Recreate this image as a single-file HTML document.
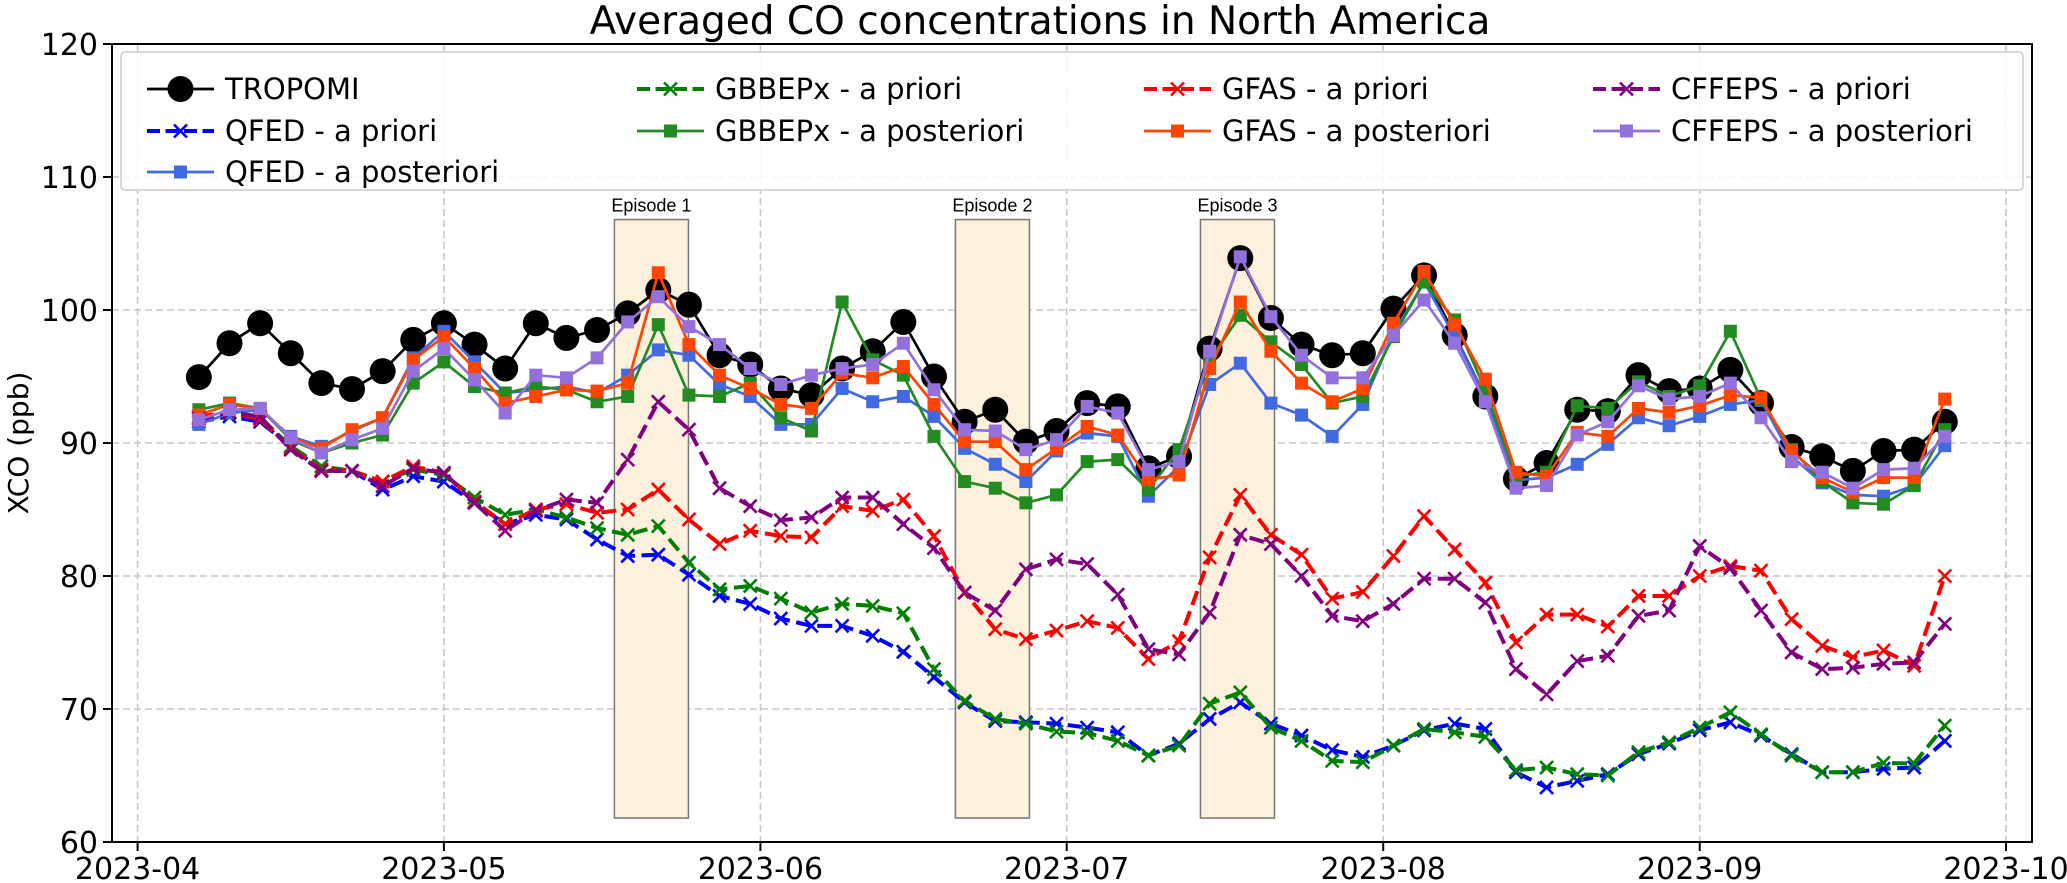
<!DOCTYPE html>
<html><head><meta charset="utf-8"><style>
html,body{margin:0;padding:0;background:#fff;}
svg{display:block;font-family:"DejaVu Sans","Liberation Sans",sans-serif;}
</style></head>
<body>
<svg id="chart" xmlns="http://www.w3.org/2000/svg" width="2067" height="883" viewBox="0 0 2067 883"></svg>
<script>
const tropomi=[94.95,97.5,99,96.75,94.5,94.05,95.4,97.75,99,97.4,95.6,99,97.9,98.5,99.75,101.5,100.4,96.6,95.9,94.1,
93.6,95.6,96.9,99.1,95,91.6,92.5,90.1,90.9,93,92.75,88.1,89,97.1,103.9,99.4,97.4,96.6,96.75,100.1,102.6,98.1,
93.5,87.3,88.5,92.5,92.4,95.1,93.9,94.1,95.5,93,89.7,89,87.9,89.4,89.5,91.6];
const qfedPost=[91.4,92.25,92.5,90.5,89.75,90.9,91.9,96.4,98.4,96.1,93.75,94,94.25,93.75,95.1,97,96.6,94.4,93.5,91.4,
91.4,94.1,93.1,93.5,92,89.6,88.4,87.1,89.4,90.75,90.5,86,88.25,94.4,96,93,92.1,90.5,92.9,98.25,102.1,98,
93.5,87.2,87.4,88.4,89.9,91.9,91.3,92,92.9,93.2,89,87,86.1,86,86.8,89.8];
const gfasPost=[92.1,92.9,92.6,90.4,89.6,91,91.9,96.25,98,95.6,93,93.5,94,93.9,94.5,102.8,97.4,95.1,94.1,92.9,
92.6,95.25,94.9,95.75,92.9,90.1,90.1,88,89.6,91.25,90.6,87.25,87.6,95.6,100.6,96.9,94.5,93.1,94.1,99,102.9,98.9,
94.8,87.8,87.5,90.8,90.5,92.6,92.3,92.8,93.6,93.4,89.4,87.4,86.3,87.4,87.4,93.3];
const gbbPost=[92.5,93,92.6,90.25,89.25,90,90.6,94.5,96.1,94.25,93.75,94.25,94,93.1,93.5,98.9,93.6,93.5,94.5,91.9,
90.9,100.6,96.25,95.1,90.5,87.1,86.6,85.5,86.1,88.6,88.75,86.5,89.5,96.25,99.6,97.6,95.9,93,93.5,98,102.1,99.25,
94,87.5,87.8,92.8,92.6,94.6,93.5,94.3,98.4,93.3,89.5,87.1,85.5,85.4,86.8,91];
const cffPost=[91.75,92.5,92.6,90.4,89.25,90.25,91.1,95.4,97.1,94.75,92.25,95.1,94.9,96.4,99.1,101,98.75,97.4,95.6,94.4,
95.1,95.6,95.9,97.5,94,91,90.9,89.5,90.25,92.75,92.25,88,88.6,96.9,104,99.5,96.6,94.9,94.9,98.1,100.75,97.5,
93.1,86.6,86.8,90.6,91.6,94.3,93.3,93.5,94.5,91.9,88.6,87.8,86.6,88,88.1,90.5];
const qfedPrior=[91.6,92,91.6,89.75,87.9,87.9,86.5,87.5,87.1,85.5,83.9,84.6,84.25,82.75,81.5,81.6,80.1,
78.5,77.9,76.8,76.25,76.25,75.5,74.3,72.4,70.5,69.1,69,68.9,68.6,68.25,66.5,67.4,69.25,70.5,68.9,68,66.9,66.4,67.25,
68.4,68.9,68.5,65.25,64.1,64.6,65.1,66.6,67.4,68.4,69,68,66.6,65.25,65.25,65.5,65.6,67.6];
const gbbPrior=[91.9,92.25,91.9,89.75,88.25,87.9,87.1,88,87.6,85.9,84.6,85,84.4,83.6,83.1,83.75,81,
79,79.25,78.3,77.25,77.9,77.75,77.2,73,70.6,69.25,68.9,68.3,68.2,67.6,66.5,67.25,70.4,71.25,68.6,67.6,66.1,66,67.25,
68.5,68.25,67.9,65.4,65.6,65.1,65,66.75,67.5,68.6,69.75,68.1,66.5,65.25,65.25,65.95,65.9,68.75];
const gfasPrior=[92,92.3,91.8,89.6,88,87.9,87.1,88.25,87.75,85.6,83.9,85,85.4,84.75,85,86.5,84.25,
82.4,83.4,83,82.9,85.25,84.9,85.75,83,78.75,76,75.25,75.9,76.6,76.1,73.75,75.1,81.4,86.1,83.1,81.6,78.3,78.8,81.5,
84.5,82,79.5,75,77.1,77.1,76.2,78.5,78.5,80,80.75,80.4,76.75,74.75,73.9,74.4,73.25,80];
const cffPrior=[91.8,92.3,92,89.5,87.9,87.9,86.75,88.1,87.75,85.5,83.4,84.9,85.75,85.5,88.75,93.1,91,
86.6,85.25,84.2,84.4,85.9,85.9,83.9,82.1,78.75,77.4,80.5,81.25,80.9,78.6,74.5,74.1,77.25,83.1,82.4,80,77,76.6,77.9,
79.8,79.8,78,73,71.1,73.6,74,77,77.4,82.25,80.6,77.4,74.25,73,73.1,73.4,73.5,76.4];
const startDay=6; const stepDays=3;
const xTickLabels=["2023-04","2023-05","2023-06","2023-07","2023-08","2023-09","2023-10"];
const xTickDays=[0,30,61,91,122,153,183];
const yTicks=[60,70,80,90,100,110,120];
const episodeNames=["Episode 1","Episode 2","Episode 3"];
const episodeStart=[46.7,80.1,104.1];
const episodeLen=7.25;
const episodeTop=106.8, episodeBottom=61.8;

const L=112,R=2032,T=44,B=842;
const xs=d=>137.6+d*10.21;
const ys=v=>B-(v-60)*(B-T)/60;
const NS="http://www.w3.org/2000/svg";
const svg=document.getElementById('chart');
function mk(tag,attrs,parent){const e=document.createElementNS(NS,tag);for(const k in attrs)e.setAttribute(k,attrs[k]);(parent||svg).appendChild(e);return e;}

const grid=mk('g',{});


xTickDays.forEach(d=>{mk('line',{x1:xs(d),x2:xs(d),y1:T,y2:B,stroke:'#c8c8c8','stroke-width':1.6,'stroke-dasharray':'7,4'},grid);});
yTicks.forEach(v=>{mk('line',{x1:L,x2:R,y1:ys(v),y2:ys(v),stroke:'#c8c8c8','stroke-width':1.6,'stroke-dasharray':'7,4'},grid);});

episodeNames.forEach((n,i)=>{
  const g=mk('g',{});
  
  
  const x0=xs(episodeStart[i]),x1=xs(episodeStart[i]+episodeLen);
  mk('rect',{x:x0,y:ys(episodeTop),width:x1-x0,height:ys(episodeBottom)-ys(episodeTop),fill:'#fdf0dc',stroke:'#777','stroke-width':1.5},g);
  const t=mk('text',{x:(x0+x1)/2,y:ys(episodeTop)-8,'text-anchor':'middle','font-size':18,'font-family':'"Liberation Sans",sans-serif',fill:'#000'},g);
  t.textContent=n;
});

const dayOf=i=>startDay+i*stepDays;
function series(name,vals,color,lw,dash,marker){
  const g=mk('g',{});
  
  
  const pts=vals.map((v,i)=>xs(dayOf(i)).toFixed(1)+','+ys(v).toFixed(1)).join(' ');
  const a={points:pts,fill:'none',stroke:color,'stroke-width':lw,'stroke-linejoin':'round'};
  if(dash)a['stroke-dasharray']=dash;
  mk('polyline',a,g);
  vals.forEach((v,i)=>drawMarker(g,marker,xs(dayOf(i)),ys(v),color));
}
function drawMarker(g,m,x,y,c){
  if(m==='o')mk('circle',{cx:x,cy:y,r:13,fill:c},g);
  else if(m==='s')mk('rect',{x:x-6.5,y:y-6.5,width:13,height:13,fill:c},g);
  else{const s=6.5;mk('path',{d:`M${x-s},${y-s}L${x+s},${y+s}M${x-s},${y+s}L${x+s},${y-s}`,stroke:c,'stroke-width':2.6,fill:'none'},g);}
}
series('tropomi-line',tropomi,'#000',2.7,null,'o');
series('qfed-prior-line',qfedPrior,'#0000ff',4,'15,6.5','x');
series('qfed-posterior-line',qfedPost,'#4169e1',2.7,null,'s');
series('gbbepx-prior-line',gbbPrior,'#008000',4,'15,6.5','x');
series('gbbepx-posterior-line',gbbPost,'#228b22',2.7,null,'s');
series('gfas-prior-line',gfasPrior,'#ff0000',4,'15,6.5','x');
series('gfas-posterior-line',gfasPost,'#ff4500',2.7,null,'s');
series('cffeps-prior-line',cffPrior,'#800080',4,'15,6.5','x');
series('cffeps-posterior-line',cffPost,'#9370db',2.7,null,'s');

const ax=mk('g',{});


mk('rect',{x:L,y:T,width:R-L,height:B-T,fill:'none',stroke:'#000','stroke-width':2},ax);
xTickDays.forEach((d,i)=>{
  mk('line',{x1:xs(d),x2:xs(d),y1:B,y2:B+9,stroke:'#000','stroke-width':2},ax);
  const t=mk('text',{x:xs(d),y:B+37,'text-anchor':'middle','font-size':30,fill:'#000'},ax);
  t.textContent=xTickLabels[i];
});
yTicks.forEach(v=>{
  mk('line',{x1:L-9,x2:L,y1:ys(v),y2:ys(v),stroke:'#000','stroke-width':2},ax);
  const t=mk('text',{x:L-14,y:ys(v)+11,'text-anchor':'end','font-size':30,fill:'#000'},ax);
  t.textContent=v;
});
const yl=mk('text',{x:28,y:(T+B)/2,'text-anchor':'middle','font-size':28,fill:'#000',transform:`rotate(-90 28 ${(T+B)/2})`});


yl.textContent='XCO (ppb)';
const tt=mk('text',{x:1040,y:34,'text-anchor':'middle','font-size':39,fill:'#000'});


tt.textContent='Averaged CO concentrations in North America';

const lg=mk('g',{});


mk('rect',{x:121,y:52,width:1902,height:138,fill:'#fff','fill-opacity':0.85,stroke:'#ccc','stroke-width':1.5,rx:4},lg);
const legItems=[
 ['TROPOMI','#000',2.7,null,'o'],['QFED - a priori','#0000ff',4,'15,6.5','x'],['QFED - a posteriori','#4169e1',2.7,null,'s'],
 ['GBBEPx - a priori','#008000',4,'15,6.5','x'],['GBBEPx - a posteriori','#228b22',2.7,null,'s'],
 ['GFAS - a priori','#ff0000',4,'15,6.5','x'],['GFAS - a posteriori','#ff4500',2.7,null,'s'],
 ['CFFEPS - a priori','#800080',4,'15,6.5','x'],['CFFEPS - a posteriori','#9370db',2.7,null,'s']];
const colX=[147,637,1144,1593], rowY=[89,131,172], colOf=[0,0,0,1,1,2,2,3,3], rowOf=[0,1,2,0,1,0,1,0,1];
legItems.forEach((it,i)=>{
  const g=mk('g',{},lg);
  
  
  const x=colX[colOf[i]],y=rowY[rowOf[i]];
  const a={x1:x,x2:x+67,y1:y,y2:y,stroke:it[1],'stroke-width':it[2]};
  if(it[3])a['stroke-dasharray']='13,5.5';
  mk('line',a,g);
  drawMarker(g,it[4],x+33.5,y,it[1]);
  const t=mk('text',{x:x+78,y:y+10,'font-size':29,fill:'#000'},g);
  t.textContent=it[0];
});
</script>
</body></html>
